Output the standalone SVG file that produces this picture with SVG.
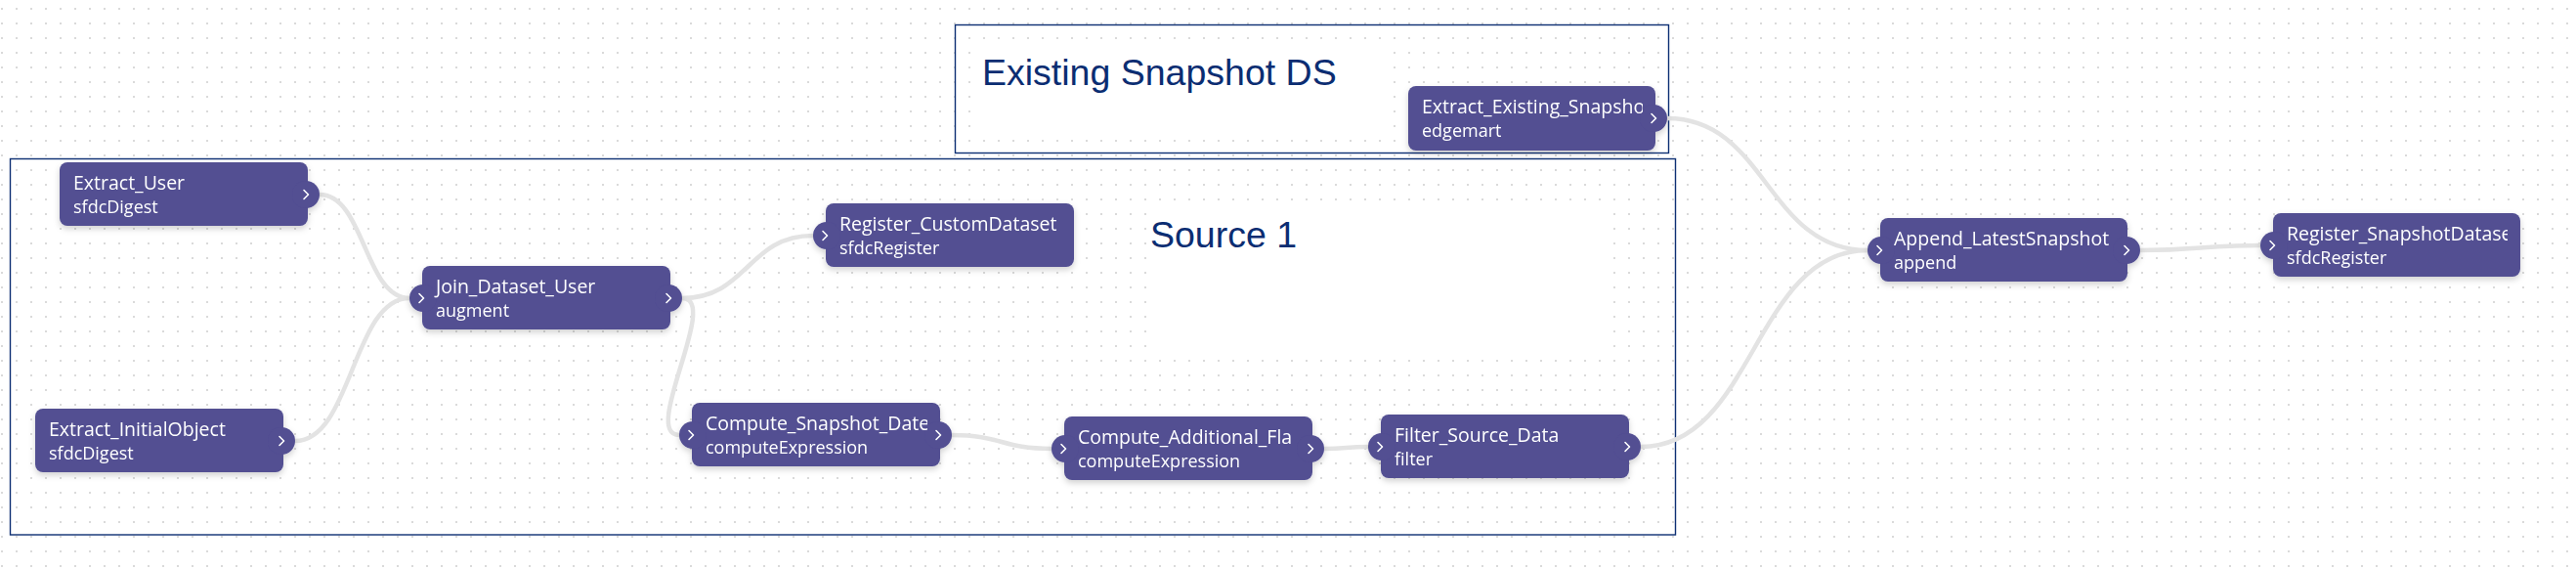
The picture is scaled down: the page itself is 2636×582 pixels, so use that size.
<svg xmlns="http://www.w3.org/2000/svg" width="2636" height="582" viewBox="0 0 2636 582">
<style>
.node rect.body{fill:#524f92}
.node circle{fill:#524f92}
.chev{fill:none;stroke:#ffffff;stroke-width:1.6;stroke-linecap:round;stroke-linejoin:round}
.t1{font-family:"Open Sans","Noto Sans",sans-serif;font-size:19.5px;fill:#ffffff}
.t2{font-family:"Open Sans","Noto Sans",sans-serif;font-size:18px;fill:#ffffff}
.edge{fill:none;stroke:#e3e3e3;stroke-width:4.5;stroke-linecap:round}
.grp{fill:none;stroke:#0d2f73;stroke-width:1.4}
.glabel{font-family:"Liberation Sans",Arial,sans-serif;font-size:37.5px;fill:#0b2d72}
</style>
<defs>
<pattern id="dots" x="0" y="0" width="15" height="15" patternUnits="userSpaceOnUse">
<rect x="1" y="8" width="2" height="2" fill="#dadada"/>
</pattern>
<filter id="sh" x="-10%" y="-20%" width="120%" height="160%">
<feDropShadow dx="0" dy="3" stdDeviation="3" flood-color="#000000" flood-opacity="0.18"/>
</filter>
<path id="chev" d="M-2,-4.5 L2.5,0 L-2,4.5"/>
<clipPath id="c1"><rect x="61" y="166" width="241" height="65"/></clipPath>
<clipPath id="c2"><rect x="36" y="418" width="241" height="65"/></clipPath>
<clipPath id="c3"><rect x="432" y="272" width="241" height="65"/></clipPath>
<clipPath id="c4"><rect x="845" y="208" width="241" height="65"/></clipPath>
<clipPath id="c5"><rect x="708" y="412" width="241" height="65"/></clipPath>
<clipPath id="c6"><rect x="1089" y="426" width="241" height="65"/></clipPath>
<clipPath id="c7"><rect x="1413" y="424" width="241" height="65"/></clipPath>
<clipPath id="c8"><rect x="1441" y="88" width="240" height="66"/></clipPath>
<clipPath id="c9"><rect x="1924" y="223" width="240" height="65"/></clipPath>
<clipPath id="c10"><rect x="2326" y="218" width="240" height="65"/></clipPath>
</defs>

<rect x="0" y="0" width="2636" height="582" fill="#ffffff"/>
<rect x="0" y="0" width="2636" height="582" fill="url(#dots)"/>

<g id="group-existing">
<rect class="grp" x="977.5" y="25.5" width="730" height="131"/>
<rect x="1000" y="44" width="420" height="94" fill="#ffffff"/>
<text class="glabel" x="1005" y="87">Existing Snapshot DS</text>
</g>
<g id="group-source1">
<rect class="grp" x="10.5" y="162.5" width="1704" height="384.5"/>
<rect x="1174" y="210" width="475" height="151" fill="#ffffff"/>
<text class="glabel" x="1177" y="253">Source 1</text>
</g>

<g id="connectors">
<path class="edge" d="M327,199 C373,199 373,305 419,305"/>
<path class="edge" d="M302,451 C360,451 361,305 419,305"/>
<path class="edge" d="M698,305 C765,305 765,241 832,241"/>
<path class="edge" d="M698,305 C738,305 655,445 695,445"/>
<path class="edge" d="M974,445 C1025,445 1025,459 1076,459"/>
<path class="edge" d="M1355,459 C1378,459 1377,457 1400,457"/>
<path class="edge" d="M1679,457 C1795,457 1795,256 1911,256"/>
<path class="edge" d="M1706,121 C1808,121 1808,256 1911,256"/>
<path class="edge" d="M2190,256 C2251,256 2252,251 2313,251"/>
</g>

<g id="Extract_User" class="node" filter="url(#sh)">
<rect class="body" x="61" y="166" width="254" height="65" rx="8"/>
<circle cx="313" cy="199" r="14"/>
<use href="#chev" x="313" y="199" class="chev"/>
<g clip-path="url(#c1)"><text class="t1" x="75" y="194">Extract_User</text><text class="t2" x="75" y="218">sfdcDigest</text></g>
</g>

<g id="Extract_InitialObject" class="node" filter="url(#sh)">
<rect class="body" x="36" y="418" width="254" height="65" rx="8"/>
<circle cx="288" cy="451" r="14"/>
<use href="#chev" x="288" y="451" class="chev"/>
<g clip-path="url(#c2)"><text class="t1" x="50" y="446">Extract_InitialObject</text><text class="t2" x="50" y="470">sfdcDigest</text></g>
</g>

<g id="Join_Dataset_User" class="node" filter="url(#sh)">
<rect class="body" x="432" y="272" width="254" height="65" rx="8"/>
<circle cx="433" cy="305" r="14"/>
<circle cx="684" cy="305" r="14"/>
<use href="#chev" x="431" y="305" class="chev"/>
<use href="#chev" x="684" y="305" class="chev"/>
<g clip-path="url(#c3)"><text class="t1" x="446" y="300">Join_Dataset_User</text><text class="t2" x="446" y="324">augment</text></g>
</g>

<g id="Register_CustomDataset" class="node" filter="url(#sh)">
<rect class="body" x="845" y="208" width="254" height="65" rx="8"/>
<circle cx="846" cy="241" r="14"/>
<use href="#chev" x="844" y="241" class="chev"/>
<g clip-path="url(#c4)"><text class="t1" x="859" y="236">Register_CustomDataset</text><text class="t2" x="859" y="260">sfdcRegister</text></g>
</g>

<g id="Compute_Snapshot_Date" class="node" filter="url(#sh)">
<rect class="body" x="708" y="412" width="254" height="65" rx="8"/>
<circle cx="709" cy="445" r="14"/>
<circle cx="960" cy="445" r="14"/>
<use href="#chev" x="707" y="445" class="chev"/>
<use href="#chev" x="960" y="445" class="chev"/>
<g clip-path="url(#c5)"><text class="t1" x="722" y="440">Compute_Snapshot_Date</text><text class="t2" x="722" y="464">computeExpression</text></g>
</g>

<g id="Compute_Additional_Fla" class="node" filter="url(#sh)">
<rect class="body" x="1089" y="426" width="254" height="65" rx="8"/>
<circle cx="1090" cy="459" r="14"/>
<circle cx="1341" cy="459" r="14"/>
<use href="#chev" x="1088" y="459" class="chev"/>
<use href="#chev" x="1341" y="459" class="chev"/>
<g clip-path="url(#c6)"><text class="t1" x="1103" y="454">Compute_Additional_Fla</text><text class="t2" x="1103" y="478">computeExpression</text></g>
</g>

<g id="Filter_Source_Data" class="node" filter="url(#sh)">
<rect class="body" x="1413" y="424" width="254" height="65" rx="8"/>
<circle cx="1414" cy="457" r="14"/>
<circle cx="1665" cy="457" r="14"/>
<use href="#chev" x="1412" y="457" class="chev"/>
<use href="#chev" x="1665" y="457" class="chev"/>
<g clip-path="url(#c7)"><text class="t1" x="1427" y="452">Filter_Source_Data</text><text class="t2" x="1427" y="476">filter</text></g>
</g>

<g id="Extract_Existing_Snapshot" class="node" filter="url(#sh)">
<rect class="body" x="1441" y="88" width="253" height="66" rx="8"/>
<circle cx="1692" cy="121" r="14"/>
<use href="#chev" x="1692" y="121" class="chev"/>
<g clip-path="url(#c8)"><text class="t1" x="1455" y="116">Extract_Existing_Snapsho</text><text class="t2" x="1455" y="140">edgemart</text></g>
</g>

<g id="Append_LatestSnapshot" class="node" filter="url(#sh)">
<rect class="body" x="1924" y="223" width="253" height="65" rx="8"/>
<circle cx="1925" cy="256" r="14"/>
<circle cx="2176" cy="256" r="14"/>
<use href="#chev" x="1923" y="256" class="chev"/>
<use href="#chev" x="2176" y="256" class="chev"/>
<g clip-path="url(#c9)"><text class="t1" x="1938" y="251">Append_LatestSnapshot</text><text class="t2" x="1938" y="275">append</text></g>
</g>

<g id="Register_SnapshotDataset" class="node" filter="url(#sh)">
<rect class="body" x="2326" y="218" width="253" height="65" rx="8"/>
<circle cx="2327" cy="251" r="14"/>
<use href="#chev" x="2325" y="251" class="chev"/>
<g clip-path="url(#c10)"><text class="t1" x="2340" y="246">Register_SnapshotDatase</text><text class="t2" x="2340" y="270">sfdcRegister</text></g>
</g>
</svg>
